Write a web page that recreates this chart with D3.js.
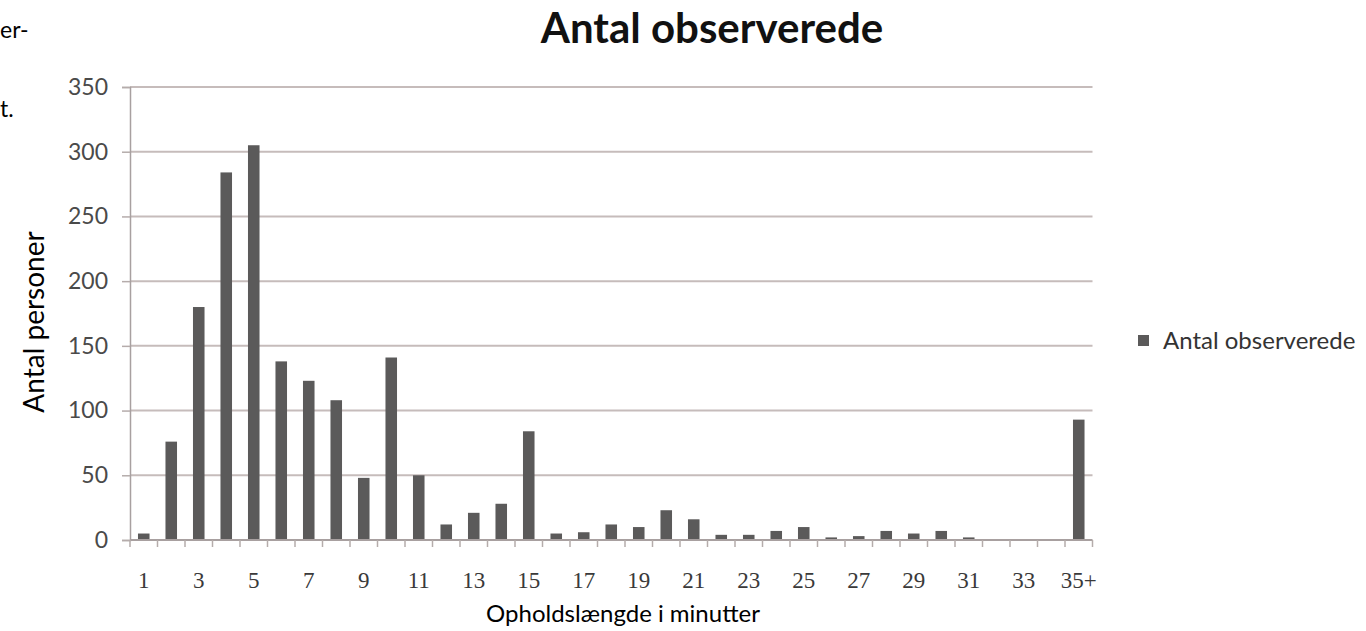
<!DOCTYPE html>
<html>
<head>
<meta charset="utf-8">
<script src="https://cdn.jsdelivr.net/npm/d3@7"></script>
<style>
  body { margin: 0; background: #fff; }
  svg { display: block; }
</style>
</head>
<body>
<svg id="chart" width="1366" height="631"></svg>
<script>
// categories (minutes) and observed counts
var categories = ["1","2","3","4","5","6","7","8","9","10","11","12","13","14","15","16","17","18",
                  "19","20","21","22","23","24","25","26","27","28","29","30","31","32","33","34","35+"];
var counts = [5, 76, 180, 284, 305, 138, 123, 108, 48, 141, 50, 12, 21, 28, 84, 5, 6, 12,
              10, 23, 16, 4, 4, 7, 10, 2, 3, 7, 5, 7, 2, 0, 0, 0, 93];
var yTicks = [0, 50, 100, 150, 200, 250, 300, 350];
var xLabels = ["1","3","5","7","9","11","13","15","17","19","21","23","25","27","29","31","33","35+"];

var seriesName = "Antal observerede";

var svg = d3.select("#chart");

// scales
var x = d3.scaleBand()
    .domain(categories)
    .range([130, 1092.5])
    .paddingInner(0.58)
    .paddingOuter(0.29);

var y = d3.scaleLinear()
    .domain([0, 350])
    .range([540, 87]);

// stray text from the surrounding document
svg.append("text").attr("x", 0).attr("y", 38)
    .style("font-family", "Lato").style("font-size", "23px").text("er-");
svg.append("text").attr("x", 0).attr("y", 117)
    .style("font-family", "Lato").style("font-size", "23px").text("t.");

// gridlines
svg.append("g")
    .selectAll("line")
    .data(yTicks.filter(function(d) { return d > 0; }))
    .enter()
    .append("line")
        .attr("x1", 130)
        .attr("x2", 1092.5)
        .attr("y1", function(d) { return y(d); })
        .attr("y2", function(d) { return y(d); })
        .attr("stroke", "#c6bcbb")
        .attr("stroke-width", 2);

// y axis
var yAxis = svg.append("g")
    .attr("transform", "translate(130,0)")
    .call(d3.axisLeft(y).tickValues(yTicks).tickSize(8).tickPadding(14));
yAxis.select(".domain").attr("stroke", "#a8a0a0").attr("stroke-width", 1.5);
yAxis.selectAll(".tick line").attr("stroke", "#b5acab").attr("stroke-width", 1.5);
yAxis.selectAll("text")
    .style("font-family", "Lato")
    .style("font-size", "23px")
    .attr("fill", "#4a4a4a");

// bars
svg.selectAll("rect.bar")
    .data(counts)
    .enter()
    .append("rect")
        .attr("class", "bar")
        .attr("x", function(d, i) { return x(categories[i]); })
        .attr("y", function(d) { return y(d); })
        .attr("width", x.bandwidth())
        .attr("height", function(d) { return y(0) - y(d); })
        .attr("fill", "#5b5a5a");

// x axis line and boundary ticks
var half = (x.step() - x.bandwidth()) / 2;
var bounds = categories.map(function(c) { return x(c) - half; }).concat([x.range()[1]]);
svg.append("line")
    .attr("x1", 130).attr("x2", 1092.5)
    .attr("y1", y(0)).attr("y2", y(0))
    .attr("stroke", "#a8a0a0").attr("stroke-width", 2);
svg.append("g")
    .selectAll("line")
    .data(bounds)
    .enter()
    .append("line")
        .attr("x1", function(d) { return d; })
        .attr("x2", function(d) { return d; })
        .attr("y1", y(0))
        .attr("y2", y(0) + 7)
        .attr("stroke", "#b5acab")
        .attr("stroke-width", 1.5);

// x tick labels (every other category)
svg.append("g")
    .selectAll("text")
    .data(xLabels)
    .enter()
    .append("text")
        .attr("x", function(d) { return x(d) + x.bandwidth() / 2; })
        .attr("y", 588)
        .attr("text-anchor", "middle")
        .style("font-family", "Liberation Serif")
        .style("font-size", "23px")
        .attr("fill", "#3a3a3a")
        .text(function(d) { return d; });

// title
svg.append("text")
    .attr("x", 712)
    .attr("y", 43)
    .attr("text-anchor", "middle")
    .style("font-family", "Lato")
    .style("font-weight", "bold")
    .style("font-size", "42px")
    .attr("fill", "#111")
    .text(seriesName);

// axis titles
svg.append("text")
    .attr("x", 623)
    .attr("y", 622)
    .attr("text-anchor", "middle")
    .style("font-family", "Lato")
    .style("font-size", "24px")
    .attr("fill", "#000")
    .text("Opholdslængde i minutter");

svg.append("text")
    .attr("transform", "translate(44,322) rotate(-90)")
    .attr("text-anchor", "middle")
    .style("font-family", "Lato")
    .style("font-size", "28px")
    .attr("fill", "#000")
    .text("Antal personer");

// legend
var legend = svg.append("g").attr("transform", "translate(1138,335)");
legend.append("rect")
    .attr("width", 11).attr("height", 11)
    .attr("fill", "#5b5a5a");
legend.append("text")
    .attr("x", 25)
    .attr("y", 14)
    .style("font-family", "Lato")
    .style("font-size", "24px")
    .attr("fill", "#333")
    .text(seriesName);
</script>
</body>
</html>
